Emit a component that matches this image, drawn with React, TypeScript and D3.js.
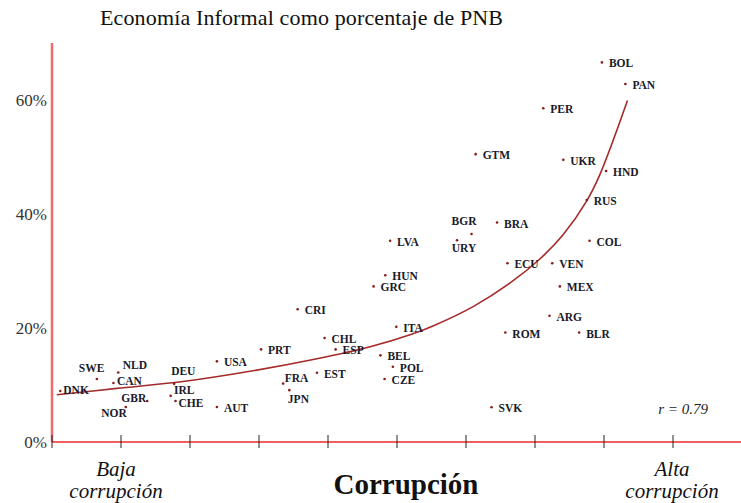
import React from 'react';
import * as d3 from 'd3';

// country codes, corruption index (x) and informal economy % of GNP (y)
const codes = ['SWE', 'NLD', 'CAN', 'DNK', 'GBR', 'NOR', 'DEU', 'IRL', 'CHE', 'USA', 'AUT', 'PRT', 'FRA', 'JPN', 'CRI', 'CHL', 'ESP', 'EST', 'LVA', 'HUN', 'GRC', 'ITA', 'BEL', 'POL', 'CZE', 'BGR', 'URY', 'GTM', 'BRA', 'ECU', 'SVK', 'ROM', 'PER', 'UKR', 'VEN', 'MEX', 'ARG', 'BLR', 'RUS', 'COL', 'HND', 'BOL', 'PAN'];
const corruption = [0.65, 0.96, 0.89, 0.12, 1.38, 1.07, 1.77, 1.72, 1.79, 2.39, 2.39, 3.03, 3.35, 3.44, 3.56, 3.95, 4.11, 3.84, 4.9, 4.83, 4.66, 4.99, 4.76, 4.94, 4.82, 6.08, 5.87, 6.14, 6.45, 6.6, 6.37, 6.57, 7.12, 7.41, 7.25, 7.36, 7.21, 7.64, 7.75, 7.79, 8.03, 7.97, 8.31];
const informal = [11.05, 12.2, 10.35, 8.95, 7.2, 6.15, 10.2, 8.1, 7.2, 14.15, 6.15, 16.25, 10.25, 9.1, 23.3, 18.25, 16.25, 12.15, 35.3, 29.25, 27.3, 20.2, 15.2, 13.2, 11.05, 36.5, 35.4, 50.5, 38.5, 31.35, 6.1, 19.2, 58.55, 49.5, 31.35, 27.3, 22.15, 19.2, 42.45, 35.3, 47.55, 66.6, 62.8];

// fitted curve
const fitX = [0.07, 0.94, 1.9, 2.87, 3.84, 4.61, 5.19, 5.53, 6.11, 6.64, 7.07, 7.41, 7.75, 7.94, 8.34];
const fitY = [8.3, 9.4, 10.6, 12.4, 14.6, 16.7, 18.8, 20.4, 23.8, 27.9, 32.1, 36.4, 42.3, 46.9, 59.9];

const yTicks = [0, 20, 40, 60];
const xTicks = [0, 1, 2, 3, 4, 5, 6, 7, 8, 9];

// label placement tweaks [dx, dy, anchor] where the label isn't right of the dot
const labelPos: Record<string, [number, number, string]> = {
  SWE: [-18, -7, 'start'],
  NLD: [4.5, -3, 'start'],
  CAN: [3.5, 2, 'start'],
  DNK: [3, 3.5, 'start'],
  GBR: [-1, 1, 'end'],
  NOR: [1, 10, 'end'],
  DEU: [-3, -9, 'start'],
  IRL: [3.3, -2, 'start'],
  CHE: [3, 6, 'start'],
  FRA: [1.5, -2, 'start'],
  JPN: [-1.5, 13, 'start'],
  BGR: [-20, -9, 'start'],
  URY: [-5.3, 12, 'start'],
};

const W = 741;
const H = 503;
const serif = '"Liberation Serif", "Times New Roman", serif';

export default function App() {
  const x = d3.scaleLinear().domain([0, 10]).range([52, 742]);
  const y = d3.scaleLinear().domain([0, 70]).range([442, 43]);

  const fitLine = d3.line<number>()
    .x((d, i) => x(fitX[i]))
    .y((d, i) => y(fitY[i]))
    .curve(d3.curveCatmullRom);

  return (
    <svg width={W} height={H} style={{ position: 'absolute', left: 0, top: 0, background: '#fff' }}>
      <text x={100} y={25} fontFamily={serif} fontSize={22} fill="#111" textLength={403}>
        Economía Informal como porcentaje de PNB
      </text>

      {/* axes */}
      <line x1={x(0)} x2={x(0)} y1={y(70)} y2={y(0)} stroke="#f26b6b" strokeWidth={2.5} />
      <line x1={x(0)} x2={W} y1={y(0)} y2={y(0)} stroke="#e82a2a" strokeWidth={1.5} />
      {xTicks.map(t => (
        <line key={t} x1={x(t)} x2={x(t)} y1={y(0) - 7} y2={y(0) + 6} stroke="#222" strokeWidth={1} />
      ))}
      {yTicks.map(t => (
        <text key={t} x={47} y={y(t) + 6} textAnchor="end" fontFamily={serif} fontSize={17} fill="#333">
          {t}%
        </text>
      ))}

      {/* fitted curve */}
      <path d={fitLine(fitX) || ''} fill="none" stroke="#a52a2a" strokeWidth={1.6} />

      {/* points + labels */}
      {codes.map((c, i) => {
        const [dx, dy, anchor] = labelPos[c] || [7, 5, 'start'];
        const px = x(corruption[i]);
        const py = y(informal[i]);
        return (
          <g key={c}>
            <circle cx={px} cy={py} r={1.3} fill="#8b1a1a" />
            <text x={px + dx} y={py + dy} textAnchor={anchor} fontFamily={serif} fontWeight="bold" fontSize={11.5} fill="#1a1a2a">
              {c}
            </text>
          </g>
        );
      })}

      <text x={708} y={414} textAnchor="end" fontFamily={serif} fontStyle="italic" fontSize={15} fill="#222">
        r = 0.79
      </text>

      {/* bottom labels */}
      <text x={116} y={476} textAnchor="middle" fontFamily={serif} fontStyle="italic" fontSize={21} fill="#111">Baja</text>
      <text x={116} y={498} textAnchor="middle" fontFamily={serif} fontStyle="italic" fontSize={21} fill="#111">corrupción</text>
      <text x={672} y={476} textAnchor="middle" fontFamily={serif} fontStyle="italic" fontSize={21} fill="#111">Alta</text>
      <text x={672} y={498} textAnchor="middle" fontFamily={serif} fontStyle="italic" fontSize={21} fill="#111">corrupción</text>
      <text x={406} y={494} textAnchor="middle" fontFamily={serif} fontWeight="bold" fontSize={29} fill="#111">Corrupción</text>
    </svg>
  );
}
